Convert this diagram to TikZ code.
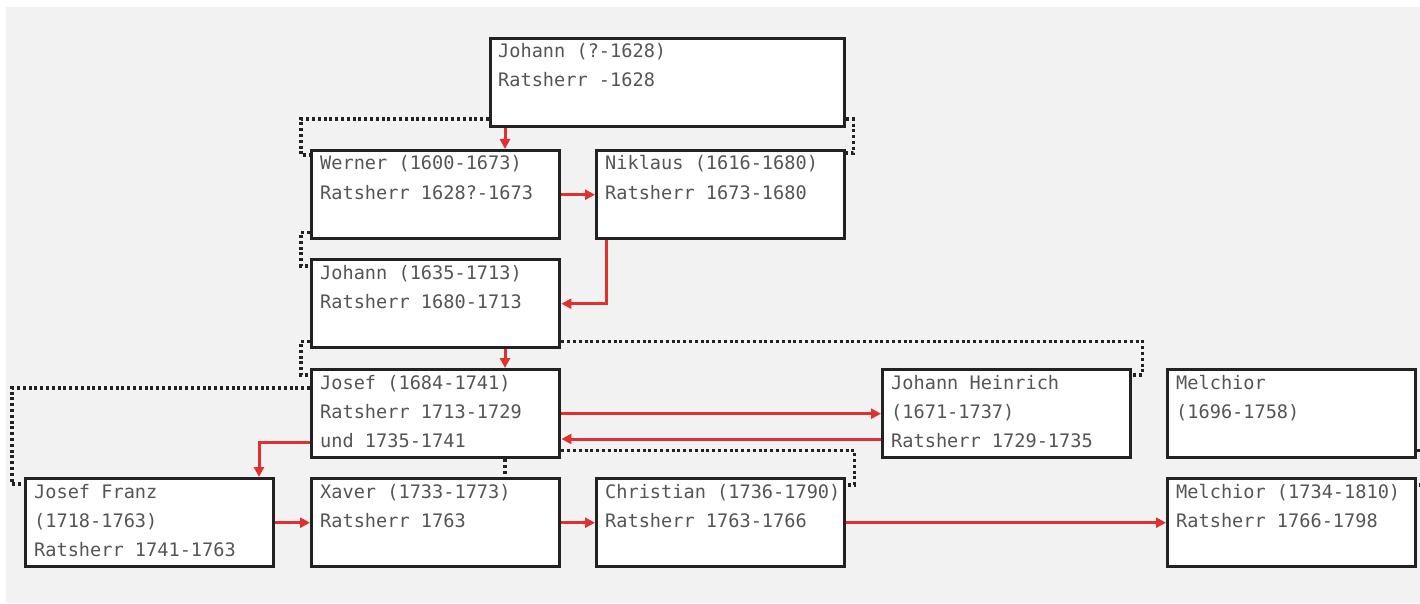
\documentclass[tikz,border=0pt]{standalone}
\usepackage{fontspec}
\setmonofont{DejaVu Sans Mono}
\usetikzlibrary{arrows.meta}
\definecolor{bg}{HTML}{F2F2F2}
\definecolor{arrred}{HTML}{E03030}
\definecolor{txtgray}{HTML}{555555}
\definecolor{boxline}{HTML}{222222}
\newcommand{\twolines}[2]{\vtop{\baselineskip=29pt\hbox{#1}\hbox{#2}}}
\newcommand{\threelines}[3]{\vtop{\baselineskip=29pt\hbox{#1}\hbox{#2}\hbox{#3}}}
\begin{document}
\begin{tikzpicture}[x=1pt,y=-1pt,
 famBox/.style={draw=boxline, line width=3.4pt, fill=white, inner sep=0pt, anchor=north west, minimum height=88pt, minimum width=248pt},
 famText/.style={anchor=base west, inner sep=0pt, text=txtgray, font=\ttfamily\fontsize{18.6}{29}\selectfont},
 succ/.style={draw=arrred, line width=3pt, -{Triangle[length=10pt,width=10pt]}},
 kin/.style={draw=boxline, line width=3.2pt, dash pattern=on 3pt off 2.8pt},
]
\useasboundingbox (0,0) rectangle (1420,604);
\clip (0,0) rectangle (1420,604);
\fill[bg] (6,7) rectangle (1420,603);

% boxes
\node[famBox, minimum width=354pt] (j1) at (489,37) {};
\node[famBox] (werner) at (310,149) {};
\node[famBox] (niklaus) at (595,149) {};
\node[famBox] (johann2) at (310,258) {};
\node[famBox] (josef) at (310,368) {};
\node[famBox] (jh) at (881,368) {};
\node[famBox] (m1) at (1166,368) {};
\node[famBox] (jf) at (24,477) {};
\node[famBox] (xaver) at (310,477) {};
\node[famBox] (christian) at (595,477) {};
\node[famBox] (m2) at (1166,477) {};

% texts
\node[famText] (j1t) at ([shift={(9pt,-21pt)}]j1.north west) {\twolines{Johann (?-1628)}{Ratsherr -1628}};
\node[famText] (wernert) at ([shift={(10pt,-21pt)}]werner.north west) {\twolines{Werner (1600-1673)}{Ratsherr 1628?-1673}};
\node[famText] (niklaust) at ([shift={(10pt,-21pt)}]niklaus.north west) {\twolines{Niklaus (1616-1680)}{Ratsherr 1673-1680}};
\node[famText] (johann2t) at ([shift={(10pt,-21pt)}]johann2.north west) {\twolines{Johann (1635-1713)}{Ratsherr 1680-1713}};
\node[famText] (joseft) at ([shift={(10pt,-21pt)}]josef.north west) {\threelines{Josef (1684-1741)}{Ratsherr 1713-1729}{und 1735-1741}};
\node[famText] (jht) at ([shift={(10pt,-21pt)}]jh.north west) {\threelines{Johann Heinrich}{(1671-1737)}{Ratsherr 1729-1735}};
\node[famText] (m1t) at ([shift={(10pt,-21pt)}]m1.north west) {\twolines{Melchior}{(1696-1758)}};
\node[famText] (jft) at ([shift={(10pt,-21pt)}]jf.north west) {\threelines{Josef Franz}{(1718-1763)}{Ratsherr 1741-1763}};
\node[famText] (xavert) at ([shift={(10pt,-21pt)}]xaver.north west) {\twolines{Xaver (1733-1773)}{Ratsherr 1763}};
\node[famText] (christiant) at ([shift={(10pt,-21pt)}]christian.north west) {\twolines{Christian (1736-1790)}{Ratsherr 1763-1766}};
\node[famText] (m2t) at ([shift={(10pt,-21pt)}]m2.north west) {\twolines{Melchior (1734-1810)}{Ratsherr 1766-1798}};

% kinship (dotted)
\draw[kin] ([yshift=-82pt]j1.north west) -| ([xshift=-9pt,yshift=-6pt]werner.north west) -- ([yshift=-6pt]werner.north west);
\draw[kin] ([yshift=-82pt]j1.north east) -| ([xshift=7pt,yshift=-4pt]niklaus.north east) -- ([yshift=-4pt]niklaus.north east);
\draw[kin] ([yshift=8pt]werner.south west) -| ([xshift=-9pt,yshift=-8pt]johann2.north west) -- ([yshift=-8pt]johann2.north west);
\draw[kin] ([yshift=8pt]johann2.south west) -| ([xshift=-9pt,yshift=-7pt]josef.north west) -- ([yshift=-7pt]josef.north west);
\draw[kin] ([yshift=8pt]johann2.south east) -| ([xshift=10pt,yshift=-7pt]jh.north east) -- ([yshift=-7pt]jh.north east);
\draw[kin] ([yshift=-20pt]josef.north west) -| ([xshift=-12pt,yshift=-7pt]jf.north west) -- ([yshift=-7pt]jf.north west);
\draw[kin] ([xshift=195pt]josef.south west) -- ([xshift=195pt]xaver.north west);
\draw[kin] ([yshift=9pt]josef.south east) -| ([xshift=8pt,yshift=-8pt]christian.north east) -- ([yshift=-8pt]christian.north east);
\draw[kin] ([yshift=9pt]m1.south east) -| ([xshift=8pt,yshift=-8pt]m2.north east) -- ([yshift=-8pt]m2.north east);

% succession (red)
\draw[succ] ([xshift=16pt]j1.south west) -- ([xshift=195pt]werner.north west);
\draw[succ] (werner.east) -- (niklaus.west);
\draw[succ] ([xshift=11pt]niklaus.south west) |- (johann2.east);
\draw[succ] ([xshift=195pt]johann2.south west) -- ([xshift=195pt]josef.north west);
\draw[succ] (josef.east) -- (jh.west);
\draw[succ] ([yshift=-71pt]jh.north west) -- ([yshift=-71pt]josef.north east);
\draw[succ] ([yshift=-74pt]josef.north west) -| ([xshift=235pt]jf.north west);
\draw[succ] (jf.east) -- (xaver.west);
\draw[succ] (xaver.east) -- (christian.west);
\draw[succ] (christian.east) -- (m2.west);
\end{tikzpicture}
\end{document}
